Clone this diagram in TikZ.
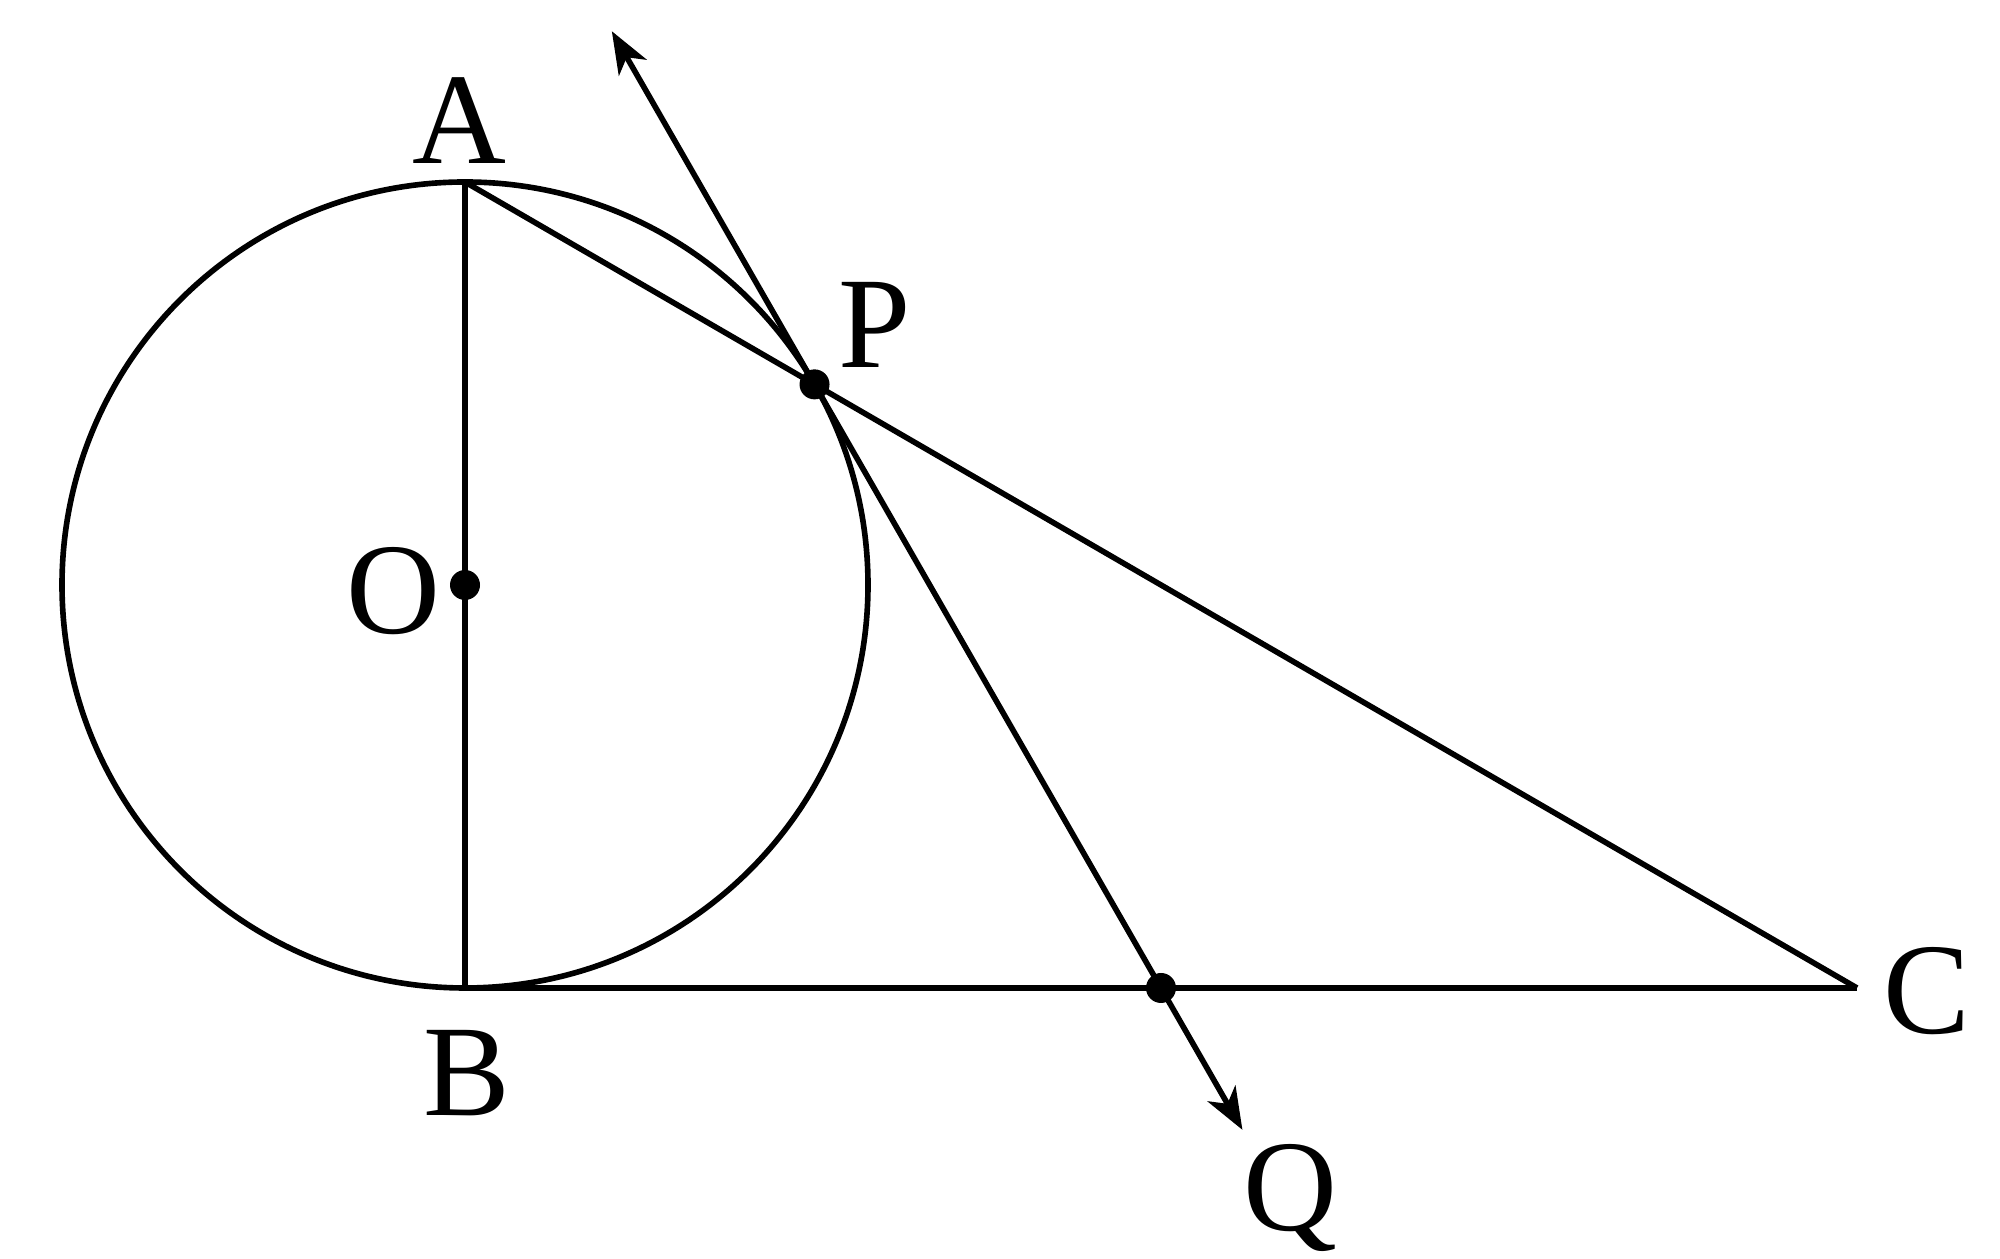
\documentclass[tikz,border=0pt]{standalone}
\usepackage{fontspec}
\setmainfont{Liberation Serif}
\usetikzlibrary{arrows.meta,calc}
\begin{document}
\begin{tikzpicture}[
  geo/.style={line width=1.6pt, black},
  ray/.style={geo, -{Stealth[length=4.2mm,width=3.2mm,inset=1.2mm]}},
  dotmark/.style={circle, fill=black, inner sep=0pt, minimum size=3mm},
  lbl/.style={font=\fontsize{37}{40}\selectfont, inner sep=0pt, text depth=0pt}
]
\useasboundingbox (0,0) rectangle (20,12.59);
% key points
\coordinate (O) at (4.65,6.74);
\coordinate (A) at (4.65,10.77);
\coordinate (B) at (4.65,2.71);
\coordinate (C) at (18.57,2.71);
\coordinate (P) at ($(A)!0.2511!(C)$);
\coordinate (M) at ($(B)!0.5!(C)$);
\coordinate (T1) at ($(P)!-0.585!(M)$);
\coordinate (T2) at ($(P)!1.235!(M)$);
% circle and lines
\draw[geo] (O) circle (4.03);
\draw[geo] (A) -- (B);
\draw[geo] (A) -- (C);
\draw[geo] (B) -- (C);
\draw[ray] (P) -- (T1);
\draw[ray] (P) -- (T2);
% dots
\node[dotmark] (dO) at (O) {};
\node[dotmark] (dP) at (P) {};
\node[dotmark] (dM) at (M) {};
% labels
\node[lbl] (lA) at (4.59,11.38) {A};
\node[lbl] (lP) at (8.75,9.34) {P};
\node[lbl] (lO) at (3.93,6.69) {O};
\node[lbl] (lB) at (4.67,1.86) {B};
\node[lbl] (lC) at (19.27,2.69) {C};
\node[lbl] (lQ) at (12.90,0.72) {Q};
\end{tikzpicture}
\end{document}
